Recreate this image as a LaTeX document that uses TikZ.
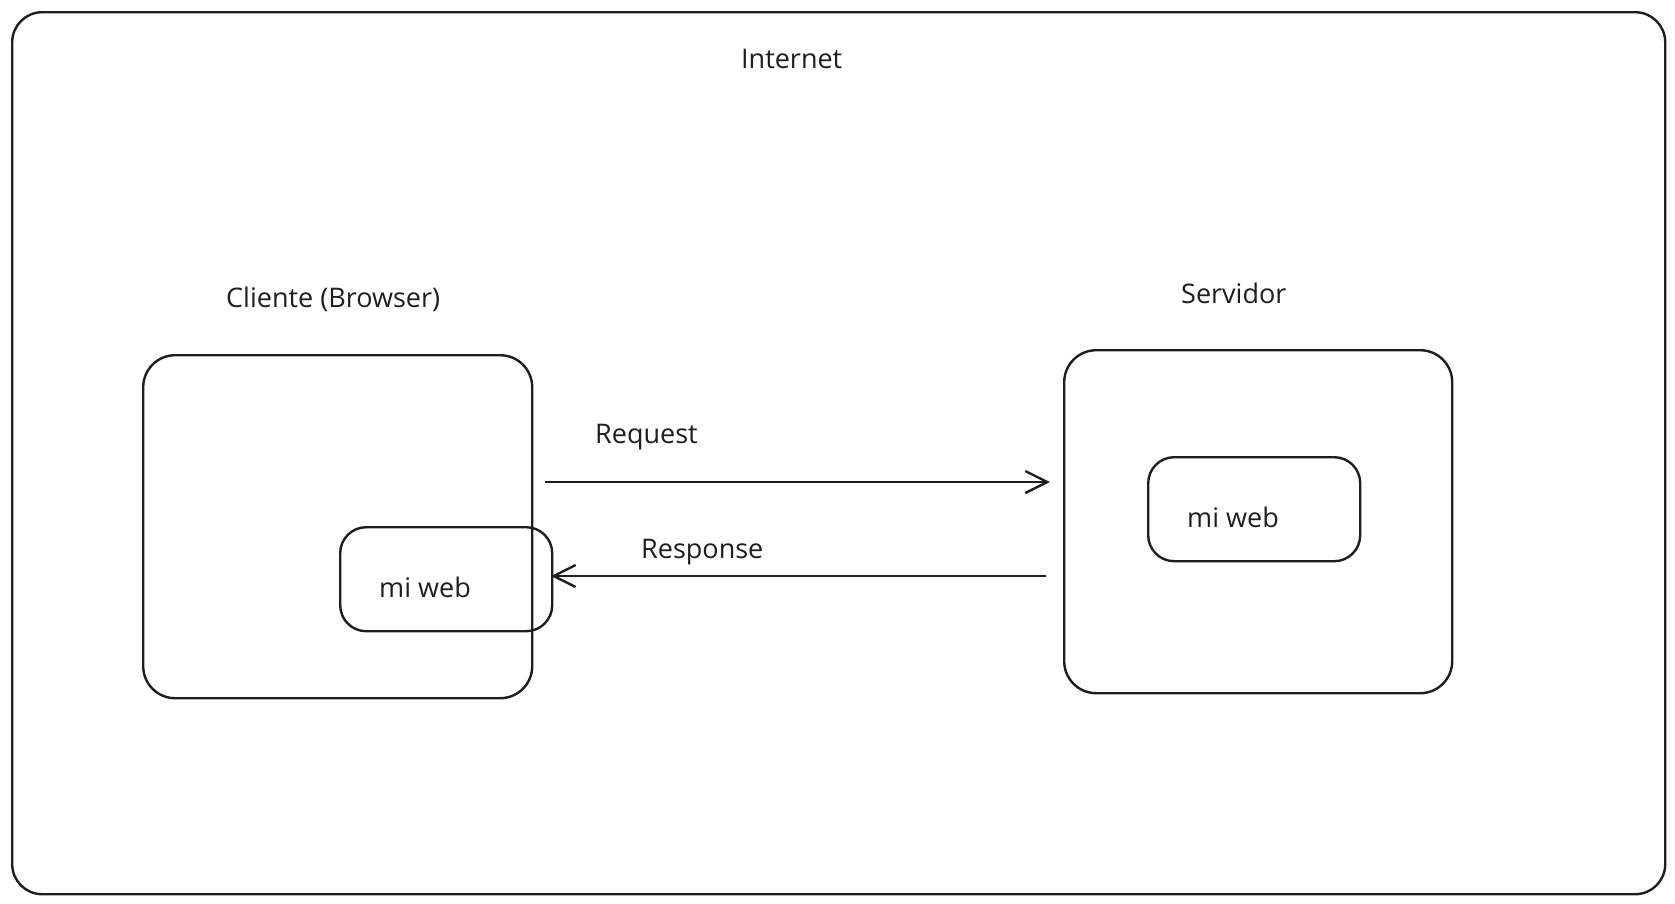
\documentclass[tikz,border=0pt]{standalone}
\usepackage{fontspec}
\setmainfont{Open Sans}
\usepackage{xcolor}
\usepackage{tikz}
\usetikzlibrary{positioning, arrows.meta}
\definecolor{ink}{HTML}{1E1E1E}
\tikzset{font={\fontsize{27pt}{32}\selectfont}}

\begin{document}
\begin{tikzpicture}[
  x=1pt, y=-1pt,
  zone/.style={rectangle, draw=ink, line width=2.4pt, rounded corners=32pt, inner sep=0pt},
  inner/.style={rectangle, draw=ink, line width=2.4pt, rounded corners=26pt, inner sep=0pt},
  lbl/.style={text=ink, inner sep=0pt, anchor=base west},
  arr/.style={-{Straight Barb[length=22pt, width=22pt, line width=2.4pt]}, line width=2.4pt, draw=ink}
]
\useasboundingbox (0,0) rectangle (1675,903);
\node[zone, minimum width=1653pt, minimum height=882pt, anchor=north west, rounded corners=30pt] (net) at (11,11) {};
\node[lbl] (netlbl) at (741,68) {Internet};
\node[zone, minimum width=389pt, minimum height=343pt, anchor=north west] (cli) at (142,354) {};
\node[lbl] (clilbl) at (226,307) {Cliente (Browser)};
\node[inner, minimum width=212pt, minimum height=104pt, anchor=north west] (webc) at (339,526) {};
\node[lbl] at (379,597) {mi web};
\node[zone, minimum width=388pt, minimum height=343pt, anchor=north west] (srv) at (1063,349) {};
\node[lbl] (srvlbl) at (1181,303) {Servidor};
\node[inner, minimum width=212pt, minimum height=104pt, anchor=north west] (webs) at (1147,456) {};
\node[lbl] at (1187,527) {mi web};
\coordinate (rqa) at (545,482);
\coordinate (rqb) at (1050,482);
\coordinate (rsa) at (1046,576);
\coordinate (rsb) at (551,576);
\draw[arr] (rqa) -- (rqb);
\draw[arr] (rsa) -- (rsb);
\node[lbl] (rqlbl) at (595,443) {Request};
\node[lbl] (rslbl) at (641,558) {Response};
\end{tikzpicture}
\end{document}
